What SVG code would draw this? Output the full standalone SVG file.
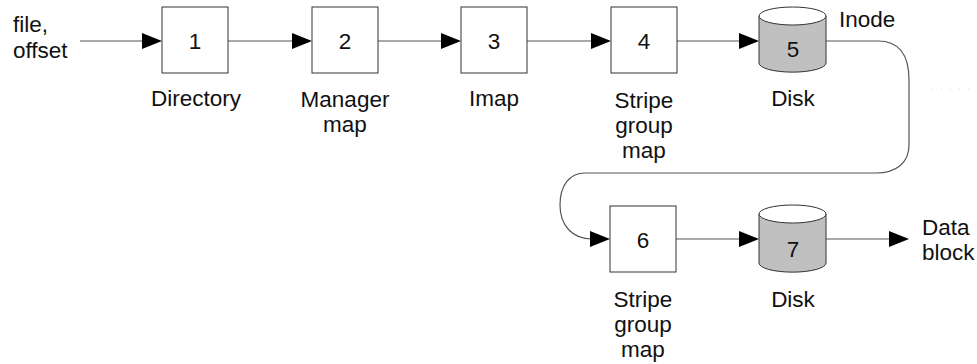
<svg xmlns="http://www.w3.org/2000/svg" width="977" height="364" viewBox="0 0 977 364">
<style>
text{font-family:"Liberation Sans",Arial,sans-serif;font-size:22.5px;fill:#111}
.c{text-anchor:middle}
.box{fill:#fff;stroke:#333;stroke-width:1}
.disk{fill:#c0c0c0;stroke:#333;stroke-width:1}
.top{fill:#fff;stroke:#333;stroke-width:1}
.ln{fill:none;stroke:#555;stroke-width:1.2}
.ah{fill:#000}
</style>
<rect width="977" height="364" fill="#fff"/>
<g id="connectors">
<line class="ln" x1="80" y1="41" x2="145" y2="41"/>
<polygon class="ah" points="142,33 162,41 142,49"/>
<line class="ln" x1="228" y1="41" x2="295" y2="41"/>
<polygon class="ah" points="292,33 312,41 292,49"/>
<line class="ln" x1="378" y1="41" x2="444" y2="41"/>
<polygon class="ah" points="441,33 461,41 441,49"/>
<line class="ln" x1="527" y1="41" x2="594" y2="41"/>
<polygon class="ah" points="591,33 611,41 591,49"/>
<line class="ln" x1="677" y1="41" x2="742" y2="41"/>
<polygon class="ah" points="739,33 759,41 739,49"/>
<path class="ln" d="M826,41 H878 C898,41 909,54 909,80 V145 C909,163 896,173 876,173 H585 C569,173 560,186 560,205 C560,225 572,239 592,239"/>
<polygon class="ah" points="590,231 610,239 590,247"/>
<line class="ln" x1="676" y1="239" x2="742" y2="239"/>
<polygon class="ah" points="739,231 759,239 739,247"/>
<line class="ln" x1="826" y1="239" x2="892" y2="239"/>
<polygon class="ah" points="889,231 909,239 889,247"/>
<line x1="932" y1="89" x2="974" y2="89" stroke="#ddd" stroke-width="1" stroke-dasharray="1 8"/>
</g>
<g id="input"><text x="13" y="32">file,</text><text x="13" y="58">offset</text></g>
<g id="n1"><rect class="box" x="162" y="7" width="66" height="66"/><text class="c" x="195" y="49">1</text><text class="c" x="196" y="106">Directory</text></g>
<g id="n2"><rect class="box" x="312" y="7" width="66" height="66"/><text class="c" x="345" y="49">2</text><text class="c" x="345" y="107">Manager</text><text class="c" x="345" y="132">map</text></g>
<g id="n3"><rect class="box" x="461" y="7" width="66" height="66"/><text class="c" x="494" y="49">3</text><text class="c" x="494" y="106">Imap</text></g>
<g id="n4"><rect class="box" x="611" y="7" width="66" height="66"/><text class="c" x="644" y="49">4</text><text class="c" x="644" y="108">Stripe</text><text class="c" x="644" y="133">group</text><text class="c" x="644" y="158">map</text></g>
<g id="n5"><path class="disk" d="M759,16 V63 A33,9 0 0 0 826,63 V16 Z"/><ellipse class="top" cx="792.5" cy="16" rx="33.5" ry="9"/><text class="c" x="793" y="57">5</text><text class="c" x="793" y="106">Disk</text><text x="839" y="27">Inode</text></g>
<g id="n6"><rect class="box" x="610" y="206" width="66" height="66"/><text class="c" x="643" y="248">6</text><text class="c" x="643" y="307">Stripe</text><text class="c" x="643" y="332">group</text><text class="c" x="643" y="357">map</text></g>
<g id="n7"><path class="disk" d="M759,214 V263 A33,9 0 0 0 826,263 V214 Z"/><ellipse class="top" cx="792.5" cy="214" rx="33.5" ry="9"/><text class="c" x="793" y="257">7</text><text class="c" x="793" y="307">Disk</text></g>
<g id="output"><text x="922" y="235">Data</text><text x="922" y="260">block</text></g>
</svg>
